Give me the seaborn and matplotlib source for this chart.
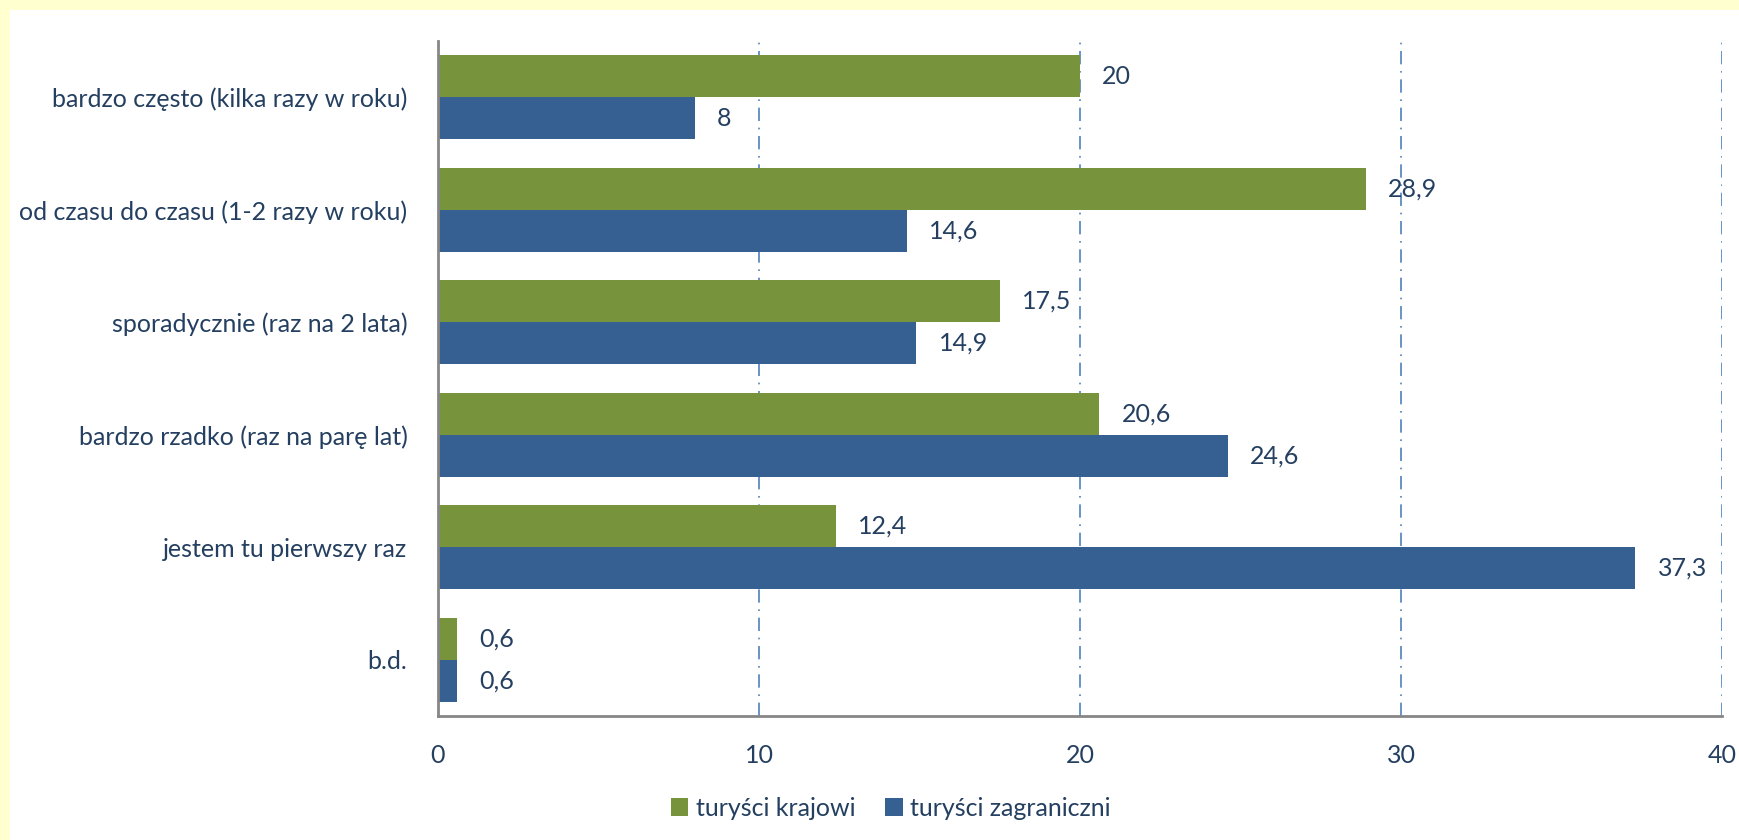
import matplotlib
matplotlib.use("Agg")
import matplotlib.pyplot as plt
import pandas as pd
import seaborn as sns
from matplotlib.patches import Rectangle

# Dane
KATEGORIE = [
    'bardzo często (kilka razy w roku)',
    'od czasu do czasu (1-2 razy w roku)',
    'sporadycznie (raz na 2 lata)',
    'bardzo rzadko (raz na parę lat)',
    'jestem tu pierwszy raz',
    'b.d.',
]
KRAJOWI = [20, 28.9, 17.5, 20.6, 12.4, 0.6]
ZAGRANICZNI = [8, 14.6, 14.9, 24.6, 37.3, 0.6]
SERIE = ['turyści krajowi', 'turyści zagraniczni']
KOLORY = ['#77933C', '#376092']
X_TICKS = [0, 10, 20, 30, 40]

TEXT_COLOR = '#243F60'
FS = 18

df = pd.DataFrame({
    'kategoria': KATEGORIE * 2,
    'seria': [SERIE[0]] * len(KATEGORIE) + [SERIE[1]] * len(KATEGORIE),
    'wartosc': KRAJOWI + ZAGRANICZNI,
})

sns.set_theme(style='white')
plt.rcParams['font.family'] = ['Lato', 'DejaVu Sans']

fig = plt.figure(figsize=(17.4, 8.4), dpi=100)
fig.patch.set_facecolor('#FFFFD0')
# biały panel wewnątrz żółtej ramki
fig.add_artist(Rectangle((10 / 1740, 0), 1, 1 - 10 / 840, transform=fig.transFigure,
                         facecolor='white', edgecolor='none', zorder=-1))

ax = fig.add_axes([438 / 1740, 1 - 716 / 840, (1722 - 438) / 1740, (716 - 41) / 840])
ax.set_facecolor('none')

sns.barplot(data=df, y='kategoria', x='wartosc', hue='seria', order=KATEGORIE,
            hue_order=SERIE, palette=KOLORY, orient='h', width=0.75, saturation=1,
            linewidth=0, ax=ax, legend=True)

for cont in ax.containers:
    ax.bar_label(cont, labels=[f'{v:g}'.replace('.', ',') for v in cont.datavalues],
                 padding=16, fontsize=FS, color=TEXT_COLOR)

ax.set_xlim(0, 40)
ax.set_ylim(len(KATEGORIE) - 0.5, -0.5)
ax.set_xticks(X_TICKS)
ax.set_xticklabels([str(t) for t in X_TICKS])
ax.set_xlabel('')
ax.set_ylabel('')
ax.xaxis.grid(True, linestyle=(0, (8, 4, 1, 4)), color='#4F81BD', linewidth=1.2)
ax.set_axisbelow(True)
ax.tick_params(axis='x', length=0, pad=20, labelsize=FS, labelcolor=TEXT_COLOR)
ax.tick_params(axis='y', length=0, pad=22, labelsize=FS, labelcolor=TEXT_COLOR)

for side in ['top', 'right']:
    ax.spines[side].set_visible(False)
for side in ['left', 'bottom']:
    ax.spines[side].set_color('#868686')
    ax.spines[side].set_linewidth(2)

handles, labels = ax.get_legend_handles_labels()
ax.get_legend().remove()
fig.legend(handles, labels, loc='center', bbox_to_anchor=(0.512, 1 - 808 / 840), ncol=2,
           frameon=False, fontsize=FS, labelcolor=TEXT_COLOR, handlelength=0.7,
           handleheight=0.7, handletextpad=0.3, columnspacing=1.2)

fig.savefig('out.png', dpi=100, facecolor=fig.get_facecolor())
